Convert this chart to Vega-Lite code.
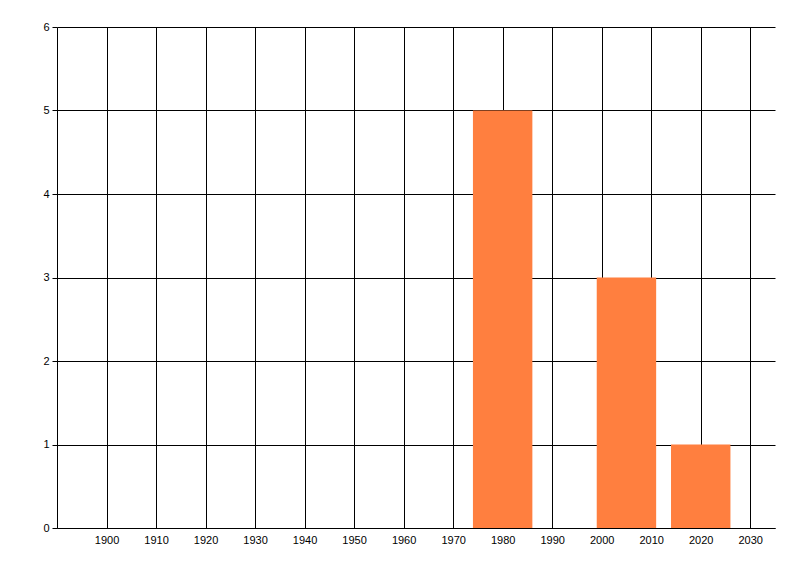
{
  "$schema": "https://vega.github.io/schema/vega-lite/v6.json",
  "autosize": "none",
  "width": 718,
  "height": 501,
  "padding": {"left": 57, "top": 27, "right": 25, "bottom": 48},
  "background": "white",
  "data": {
    "values": [
      {"start": 1974, "end": 1986, "count": 5},
      {"start": 1999, "end": 2011, "count": 3},
      {"start": 2014, "end": 2026, "count": 1}
    ]
  },
  "config": {
    "view": {"stroke": null},
    "axis": {
      "labelFont": "Liberation Sans",
      "labelFontSize": 11,
      "labelColor": "#000000",
      "domainColor": "#000000",
      "gridColor": "#000000",
      "gridOpacity": 1,
      "gridWidth": 1,
      "domainWidth": 1,
      "tickColor": "#000000"
    }
  },
  "mark": {"type": "rect", "color": "#FF7F3F"},
  "encoding": {
    "x": {
      "field": "start",
      "type": "quantitative",
      "scale": {"domain": [1890, 2035], "nice": false, "zero": false},
      "axis": {
        "title": null,
        "values": [1900, 1910, 1920, 1930, 1940, 1950, 1960, 1970, 1980, 1990, 2000, 2010, 2020, 2030],
        "format": "d",
        "ticks": false,
        "labelPadding": 6,
        "grid": true
      }
    },
    "x2": {"field": "end"},
    "y": {
      "field": "count",
      "type": "quantitative",
      "scale": {"domain": [0, 6], "nice": false},
      "axis": {
        "title": null,
        "values": [0, 1, 2, 3, 4, 5, 6],
        "tickSize": 5,
        "labelPadding": 3,
        "grid": true
      }
    },
    "y2": {"datum": 0}
  }
}
